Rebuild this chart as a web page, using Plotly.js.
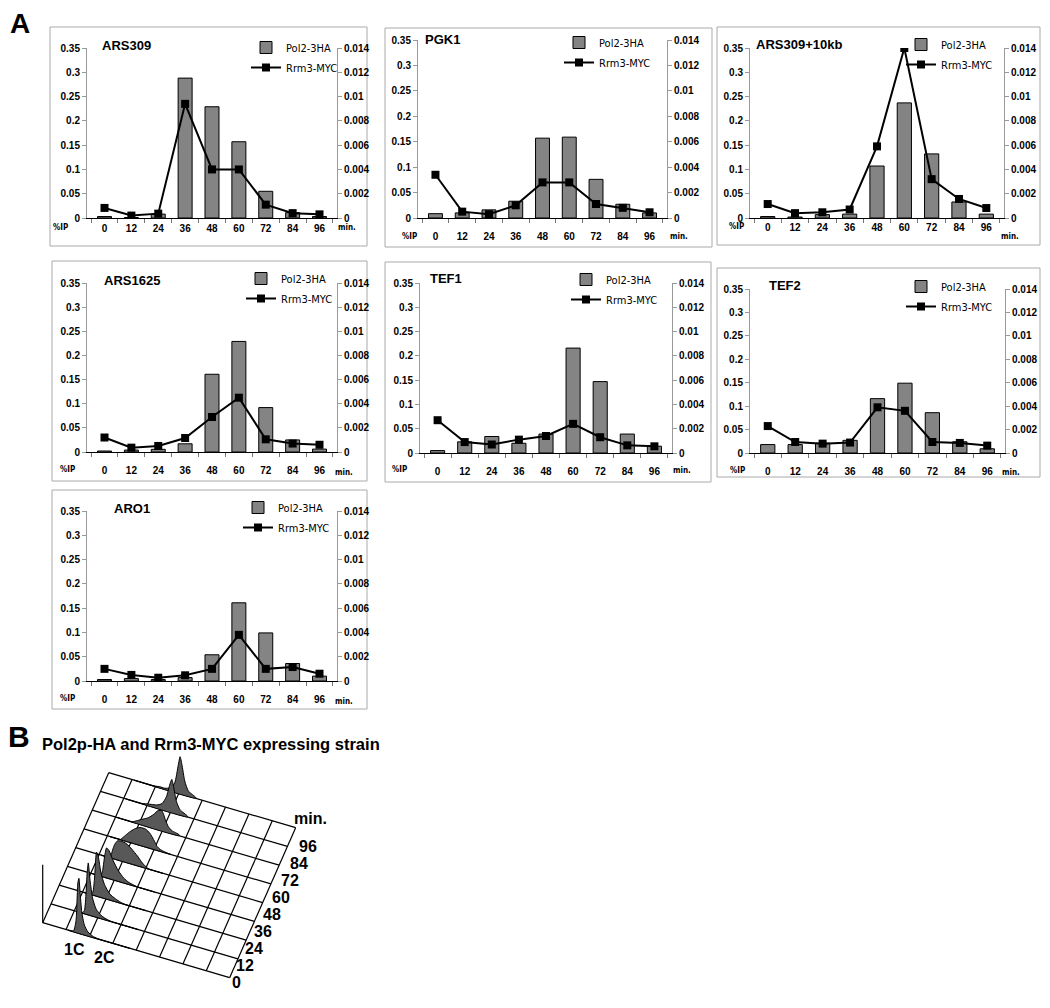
<!DOCTYPE html>
<html><head><meta charset="utf-8">
<script src="https://cdn.plot.ly/plotly-3.0.1.min.js"></script>
<style>html,body{margin:0;padding:0;background:#fff}#chart{width:1050px;height:1008px}</style>
</head><body><div id="chart"></div>
<script>
// ---------- Panel A data ----------
const timePoints = ['0','12','24','36','48','60','72','84','96'];
const panelNames = ['ARS309','PGK1','ARS309+10kb','ARS1625','TEF1','TEF2','ARO1'];
const pol2_ARS309 = [0.003, 0.001, 0.008, 0.288, 0.229, 0.157, 0.055, 0.011, 0.003];
const rrm3_ARS309 = [0.00083, 0.0002, 0.00036, 0.0094, 0.0040, 0.0040, 0.0011, 0.0004, 0.0003];
const pol2_PGK1 = [0.0085, 0.010, 0.016, 0.033, 0.157, 0.159, 0.076, 0.027, 0.010];
const rrm3_PGK1 = [0.0034, 0.0005, 0.0003, 0.0010, 0.0028, 0.0028, 0.0011, 0.0008, 0.00045];
const pol2_ARS309_10kb = [0.003, 0.002, 0.007, 0.008, 0.107, 0.237, 0.132, 0.033, 0.008];
const rrm3_ARS309_10kb = [0.00115, 0.0004, 0.00047, 0.0007, 0.0059, 0.0140, 0.0032, 0.00157, 0.00082];
const pol2_ARS1625 = [0.002, 0.004, 0.0055, 0.017, 0.161, 0.229, 0.092, 0.025, 0.006];
const rrm3_ARS1625 = [0.0012, 0.00036, 0.0005, 0.00116, 0.0029, 0.0045, 0.00105, 0.0007, 0.0006];
const pol2_TEF1 = [0.005, 0.023, 0.034, 0.020, 0.039, 0.216, 0.147, 0.039, 0.014];
const rrm3_TEF1 = [0.0027, 0.0009, 0.0007, 0.0011, 0.0014, 0.0024, 0.0013, 0.00063, 0.00055];
const pol2_TEF2 = [0.018, 0.018, 0.021, 0.027, 0.116, 0.149, 0.086, 0.024, 0.009];
const rrm3_TEF2 = [0.0023, 0.00094, 0.0008, 0.00089, 0.0039, 0.0036, 0.00094, 0.00086, 0.00063];
const pol2_ARO1 = [0.003, 0.005, 0.003, 0.007, 0.054, 0.161, 0.099, 0.036, 0.010];
const rrm3_ARO1 = [0.001, 0.0005, 0.00027, 0.00047, 0.001, 0.0038, 0.001, 0.00115, 0.0006];
const seriesNames = ['Pol2-3HA', 'Rrm3-MYC'];
const leftTicks = [0, 0.05, 0.1, 0.15, 0.2, 0.25, 0.3, 0.35];
const rightTicks = [0, 0.002, 0.004, 0.006, 0.008, 0.01, 0.012, 0.014];

// ---------- Panel B data (flow cytometry) ----------
const facsTimes = ['0','12','24','36','48','60','72','84','96'];
const dnaContent = [0.70,0.85,0.92,0.97,1.00,1.03,1.08,1.15,1.25,1.40,1.55,1.70,1.82,1.92,1.97,2.02,2.10,2.20,2.40];
const facs_0  = [0,1,12,50,55,42,22,10,4,1,0,0,0,0,0,0,0,0,0];
const facs_12 = [0,0,3,22,42,52,35,18,8,3,1,0,0,0,0,0,0,0,0];
const facs_24 = [0,0,2,15,32,44,40,25,14,6,3,1,0,0,0,0,0,0,0];
const facs_36 = [0,0,1,6,14,22,30,28,20,11,5,2,1,0,0,0,0,0,0];
const facs_48 = [0,0,0,2,6,10,15,19,20,19,15,10,5,2,1,0,0,0,0];
const facs_60 = [0,0,0,0,0,1,3,6,10,15,18,18,15,10,7,4,2,1,0];
const facs_72 = [0,0,0,0,0,0,0,1,3,6,9,14,19,20,17,12,6,3,1];
const facs_84 = [0,0,0,0,0,0,0,0,1,2,3,6,14,28,33,26,12,5,1];
const facs_96 = [0,0,0,0,0,0,0,0,0,1,1,3,9,28,37,30,14,5,1];

// ---------- helpers / layout geometry ----------
const W = 1050, H = 1008;
const px = x => x / W, py = y => 1 - y / H;
const pol2All = [pol2_ARS309, pol2_PGK1, pol2_ARS309_10kb, pol2_ARS1625, pol2_TEF1, pol2_TEF2, pol2_ARO1];
const rrm3All = [rrm3_ARS309, rrm3_PGK1, rrm3_ARS309_10kb, rrm3_ARS1625, rrm3_TEF1, rrm3_TEF2, rrm3_ARO1];
const facsAll = [facs_0, facs_12, facs_24, facs_36, facs_48, facs_60, facs_72, facs_84, facs_96];

const geom = [
 {x0:87, x1:337, yt:48, yb:218, box:[50,27,367,246],  title:[100,46], ip:[60,228],  mn:[347,228], leg:[246,33],  so:1},
 {x0:418,x1:667, yt:40, yb:218, box:[385,28,712,247], title:[423,40], ip:[409,236], mn:[679,236], leg:[559,28],  so:9},
 {x0:750,x1:1004,yt:48, yb:218, box:[717,27,1040,245],title:[754,45], ip:[736,227], mn:[1010,236],leg:[901,30],  so:0},
 {x0:87, x1:337, yt:283,yb:452, box:[52,261,367,481], title:[102,280],ip:[67,469],  mn:[344,472], leg:[241,264], so:9},
 {x0:420,x1:672, yt:283,yb:453, box:[385,262,711,482],title:[428,278],ip:[399,469], mn:[682,470], leg:[566,265], so:9},
 {x0:750,x1:1005,yt:289,yb:453, box:[717,268,1040,477],title:[767,285],ip:[737,470], mn:[1011,472],leg:[901,272], so:9},
 {x0:87, x1:337, yt:511,yb:681, box:[52,490,367,709], title:[112,508],ip:[67,698],  mn:[344,701], leg:[238,493], so:9}
];

const baseFont = 'Liberation Sans, Arial, Helvetica, sans-serif';
const narrowFont = 'Liberation Sans Narrow, Arial Narrow, DejaVu Sans Condensed, sans-serif';
const tickFont = {size: 10, family: baseFont, color: '#000', weight: 'bold'};

const traces = [];
const layout = {
  width: W, height: H, margin: {l:0, r:0, t:0, b:0},
  paper_bgcolor: '#fff', plot_bgcolor: 'rgba(0,0,0,0)',
  showlegend: true, hovermode: false, bargap: 0.48,
  font: {family: baseFont, color: '#000'},
  annotations: [], shapes: []
};

geom.forEach((g, i) => {
  const n = i + 1;
  const xa = 'x' + n, yl = 'y' + (2*n - 1), yr = 'y' + (2*n);
  const legName = n === 1 ? 'legend' : 'legend' + n;
  traces.push({
    type: 'bar', x: timePoints, y: pol2All[i], name: seriesNames[0],
    xaxis: xa, yaxis: yl, legend: legName, legendgroup: 'a' + n,
    marker: {color: '#848484', line: {color: '#000', width: 1}}
  });
  traces.push({
    type: 'scatter', mode: 'lines+markers', x: timePoints, y: rrm3All[i], name: seriesNames[1],
    xaxis: xa, yaxis: yr, legend: legName, legendgroup: 'b' + n,
    line: {color: '#000', width: 2}, marker: {symbol: 'square', size: 8, color: '#000'}
  });
  const xdom = [px(g.x0), px(g.x1)], ydom = [py(g.yb), py(g.yt)];
  layout['xaxis' + n] = {
    domain: xdom, anchor: yl, type: 'category', showline: true, linecolor: '#000', linewidth: 1,
    ticks: 'outside', tickson: 'boundaries', ticklen: 4, tickcolor: '#777', showgrid: false, zeroline: false,
    tickfont: tickFont, ticklabelstandoff: g.so, fixedrange: true
  };
  layout['yaxis' + (2*n - 1)] = {
    domain: ydom, anchor: xa, range: [0, 0.35], tickvals: leftTicks, showline: true, linecolor: '#999',
    ticks: 'outside', ticklen: 4, tickcolor: '#999', showgrid: false, zeroline: false,
    tickfont: tickFont, fixedrange: true
  };
  layout['yaxis' + (2*n)] = {
    domain: ydom, anchor: xa, overlaying: yl, side: 'right', range: [0, 0.014], tickvals: rightTicks,
    showline: true, linecolor: '#999', ticks: 'outside', ticklen: 4, tickcolor: '#999',
    showgrid: false, zeroline: false, tickfont: tickFont, fixedrange: true
  };
  layout[legName] = {
    x: px(g.leg[0]), y: py(g.leg[1]), xanchor: 'left', yanchor: 'top', bgcolor: 'rgba(0,0,0,0)',
    font: {size: 11, family: narrowFont, color: '#000'}, tracegroupgap: 1, itemwidth: 30
  };
  layout.shapes.push({type: 'rect', xref: 'paper', yref: 'paper',
    x0: px(g.box[0]), x1: px(g.box[2]), y0: py(g.box[3]), y1: py(g.box[1]),
    line: {color: '#aaa', width: 1}, fillcolor: 'rgba(0,0,0,0)', layer: 'below'});
  layout.annotations.push({xref: 'paper', yref: 'paper', x: px(g.title[0]), y: py(g.title[1]),
    xanchor: 'left', yanchor: 'middle', showarrow: false, text: '<b>' + panelNames[i] + '</b>',
    font: {size: 13, family: baseFont, color: '#000'}});
  layout.annotations.push({xref: 'paper', yref: 'paper', x: px(g.ip[0]), y: py(g.ip[1]),
    xanchor: 'center', yanchor: 'middle', showarrow: false, text: '<b>%IP</b>',
    font: {size: 8, family: narrowFont, color: '#000'}});
  layout.annotations.push({xref: 'paper', yref: 'paper', x: px(g.mn[0]), y: py(g.mn[1]),
    xanchor: 'center', yanchor: 'middle', showarrow: false, text: '<b>min.</b>',
    font: {size: 8, family: narrowFont, color: '#000'}});
});

// ---------- Panel B: pseudo-3D stacked histograms ----------
const F = [42.7, 922.7], colStep = [23.37, 6.87], rowStep = [8.25, -18.75];
const nCols = 8, nRows = 8, colsPerC = 1.55;
const floorPt = (col, row) => [F[0] + col*colStep[0] + row*rowStep[0], F[1] + col*colStep[1] + row*rowStep[1]];
const gx = [], gy = [];
for (let k = 0; k <= nRows; k++) { const a = floorPt(0, k), b = floorPt(nCols, k); gx.push(a[0], b[0], null); gy.push(a[1], b[1], null); }
for (let j = 0; j <= nCols; j++) { const a = floorPt(j, 0), b = floorPt(j, nRows); gx.push(a[0], b[0], null); gy.push(a[1], b[1], null); }
gx.push(F[0], F[0], null); gy.push(F[1], F[1] - 58, null);
traces.push({type: 'scatter', mode: 'lines', x: gx, y: gy, xaxis: 'x8', yaxis: 'y15', showlegend: false,
  line: {color: '#000', width: 1.2}, connectgaps: false});
for (let k = nRows; k >= 0; k--) {
  const h = facsAll[k];
  const xs = [], ys = [];
  dnaContent.forEach((c, idx) => { const p = floorPt(c*colsPerC, k); xs.push(p[0]); ys.push(p[1] - h[idx]); });
  const pEnd = floorPt(dnaContent[dnaContent.length-1]*colsPerC, k), pStart = floorPt(dnaContent[0]*colsPerC, k);
  xs.push(pEnd[0], pStart[0]); ys.push(pEnd[1], pStart[1]);
  traces.push({type: 'scatter', mode: 'lines', x: xs, y: ys, xaxis: 'x8', yaxis: 'y15', showlegend: false,
    fill: 'toself', fillcolor: '#585858', line: {color: '#000', width: 1, shape: 'spline', smoothing: 0.6},
    name: facsTimes[k] + ' min'});
}
layout.xaxis8 = {domain: [0, px(420)], range: [0, 420], anchor: 'y15', visible: false, fixedrange: true};
layout.yaxis15 = {domain: [0, py(715)], range: [1008, 715], anchor: 'x8', visible: false, fixedrange: true};
const labStart = [236, 982], labStep = [9, -16.9];
facsTimes.forEach((t, k) => {
  layout.annotations.push({xref: 'x8', yref: 'y15', x: labStart[0] + k*labStep[0], y: labStart[1] + k*labStep[1],
    xanchor: 'center', yanchor: 'middle', showarrow: false, text: '<b>' + t + '</b>',
    font: {size: 16, family: baseFont, color: '#000'}});
});
layout.annotations.push({xref: 'x8', yref: 'y15', x: 310, y: 818, xanchor: 'center', yanchor: 'middle', showarrow: false,
  text: '<b>min.</b>', font: {size: 16, family: baseFont, color: '#000'}});
layout.annotations.push({xref: 'x8', yref: 'y15', x: 74, y: 949, xanchor: 'center', yanchor: 'middle', showarrow: false,
  text: '<b>1C</b>', font: {size: 16, family: baseFont, color: '#000'}});
layout.annotations.push({xref: 'x8', yref: 'y15', x: 104, y: 957, xanchor: 'center', yanchor: 'middle', showarrow: false,
  text: '<b>2C</b>', font: {size: 16, family: baseFont, color: '#000'}});

// panel letters and B title
layout.annotations.push({xref: 'paper', yref: 'paper', x: px(8), y: py(23), xanchor: 'left', yanchor: 'middle', showarrow: false,
  text: '<b>A</b>', font: {size: 28, family: baseFont, color: '#000'}});
layout.annotations.push({xref: 'paper', yref: 'paper', x: px(6), y: py(736), xanchor: 'left', yanchor: 'middle', showarrow: false,
  text: '<b>B</b>', font: {size: 30, family: baseFont, color: '#000'}});
layout.annotations.push({xref: 'paper', yref: 'paper', x: px(40), y: py(744), xanchor: 'left', yanchor: 'middle', showarrow: false,
  text: '<b>Pol2p-HA and Rrm3-MYC expressing strain</b>', font: {size: 16.5, family: baseFont, color: '#000'}});

Plotly.newPlot('chart', traces, layout, {staticPlot: true, displayModeBar: false});
</script></body></html>
